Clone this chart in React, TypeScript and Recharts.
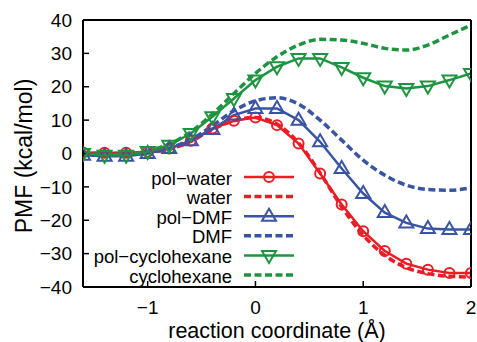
import { LineChart, Line, XAxis, YAxis, Legend, Label } from "recharts";

const RED = "#ec1c24";
const BLUE = "#3a54a4";
const GREEN = "#1f9440";
const FONT = "'Liberation Sans', Arial, Helvetica, sans-serif";

// reaction coordinate (Å), sampled every 0.2
const xs = [-1.6, -1.4, -1.2, -1.0, -0.8, -0.6, -0.4, -0.2, 0, 0.2, 0.4, 0.6, 0.8, 1.0, 1.2, 1.4, 1.6, 1.8, 2.0];

// PMF (kcal/mol)
const polWater = [0.3, 0.2, 0.2, 0.5, 1.5, 3.8, 7.5, 9.8, 10.8, 8.5, 3, -6, -15.3, -23.3, -29.2, -33, -34.8, -35.8, -35.8];
const water = [0, 0, 0, 0.3, 1.3, 3.6, 7.2, 9.8, 10.8, 8.8, 3.2, -5.8, -16, -24.5, -30.5, -34.2, -36, -36.8, -37];
const polDmf = [-0.5, -0.8, -0.8, 0, 1.5, 3.8, 7.2, 11.5, 13.5, 13.5, 10, 3.5, -4.5, -12, -17.7, -20.8, -22.5, -22.8, -22.8];
const dmf = [0, -0.3, -0.3, 0.3, 1.6, 4.2, 8.3, 12.8, 15.8, 16.7, 14.8, 10, 4, -2, -6.5, -9.5, -10.8, -11, -10.3];
const polCyclo = [0, -0.5, -0.5, 0.6, 2.5, 6, 11, 16.5, 22, 26, 28.5, 28.5, 25.8, 22.7, 20.2, 19.5, 20.2, 22, 24];
const cyclo = [0, -0.3, -0.3, 0.8, 2.8, 6.5, 11.8, 18, 24, 29, 32.5, 34.2, 34, 33, 31.5, 31, 32.5, 35.5, 38.5];

const xTicks = [-1, 0, 1, 2];
const yTicks = [-40, -30, -20, -10, 0, 10, 20, 30, 40];

// legend order, as in the plot command
const seriesOrder = ["polWater", "water", "polDmf", "dmf", "polCyclo", "cyclo"];

const rows = xs.map((x, i) => ({
  x,
  polWater: polWater[i],
  water: water[i],
  polDmf: polDmf[i],
  dmf: dmf[i],
  polCyclo: polCyclo[i],
  cyclo: cyclo[i],
}));

const fmt = (v: number) => (v < 0 ? `\u2212${Math.abs(v)}` : String(v));

function circlePath(cx: number, cy: number, color: string, key?: string) {
  return <circle key={key} cx={cx} cy={cy} r={5} fill="none" stroke={color} strokeWidth={2} />;
}
function triUp(cx: number, cy: number, color: string, key?: string) {
  return (
    <path key={key} d={`M${cx},${cy - 7.5}L${cx + 7},${cy + 4.5}L${cx - 7},${cy + 4.5}Z`} fill="none" stroke={color} strokeWidth={2} />
  );
}
function triDown(cx: number, cy: number, color: string, key?: string) {
  return (
    <path key={key} d={`M${cx},${cy + 7.5}L${cx + 7},${cy - 4.5}L${cx - 7},${cy - 4.5}Z`} fill="none" stroke={color} strokeWidth={2} />
  );
}

const markerFor: Record<string, (cx: number, cy: number, c: string, k?: string) => JSX.Element> = {
  polWater: circlePath,
  polDmf: triUp,
  polCyclo: triDown,
};

function makeDot(kind: string, color: string) {
  return (props: any) => {
    const { cx, cy, index } = props;
    if (cx == null || cy == null) return <g key={`${kind}${index}`} />;
    return markerFor[kind](cx, cy, color, `${kind}${index}`);
  };
}

function LegendBox(props: any) {
  const payload = [...(props.payload || [])].sort(
    (a: any, b: any) => seriesOrder.indexOf(a.dataKey) - seriesOrder.indexOf(b.dataKey)
  );
  return (
    <svg width={300} height={125} style={{ display: "block", overflow: "visible" }}>
      {payload.map((entry: any, i: number) => {
        const y = 12 + i * 19.6;
        const key = entry.dataKey as string;
        const dashed = !!entry.payload?.strokeDasharray;
        return (
          <g key={key}>
            <text x={232} y={y + 1} textAnchor="end" dominantBaseline="central" fontSize={18.5} fontFamily={FONT} fill="#000">
              {entry.value}
            </text>
            <line
              x1={244}
              x2={294}
              y1={y}
              y2={y}
              stroke={entry.color}
              strokeWidth={dashed ? 3.5 : 2.5}
              strokeDasharray={dashed ? "7 3.5" : undefined}
            />
            {markerFor[key] ? markerFor[key](269, y, entry.color) : null}
          </g>
        );
      })}
    </svg>
  );
}

export default function App() {
  const tickStyle = { fill: "#000", fontSize: 19, fontFamily: FONT };
  const axisLine = { stroke: "#000", strokeWidth: 2 };
  const tickLine = { stroke: "#000", strokeWidth: 1.5 };
  return (
    <div style={{ position: "absolute", left: 0, top: 0, width: 477, height: 342, background: "#fff" }}>
      <LineChart
        width={477}
        height={342}
        data={rows}
        margin={{ top: 0, right: 0, bottom: 0, left: 0 }}
        style={{ fontFamily: FONT }}
      >
        <XAxis
          xAxisId="bottom"
          dataKey="x"
          type="number"
          domain={[-1.6, 2]}
          ticks={xTicks}
          allowDataOverflow
          height={55}
          tick={tickStyle}
          tickFormatter={fmt}
          tickSize={-6}
          tickMargin={20}
          axisLine={axisLine}
          tickLine={tickLine}
        >
          <Label
            content={() => (
              <text x={277} y={338} textAnchor="middle" fontSize={21.5} fontFamily={FONT} fill="#000">
                reaction coordinate (Å)
              </text>
            )}
          />
        </XAxis>
        <XAxis
          xAxisId="top"
          orientation="top"
          dataKey="x"
          type="number"
          domain={[-1.6, 2]}
          ticks={xTicks}
          allowDataOverflow
          height={20}
          tick={false}
          tickSize={-6}
          axisLine={axisLine}
          tickLine={tickLine}
        />
        <YAxis
          yAxisId="left"
          type="number"
          domain={[-40, 40]}
          ticks={yTicks}
          allowDataOverflow
          width={83}
          tick={tickStyle}
          tickFormatter={fmt}
          tickSize={-6}
          tickMargin={17}
          axisLine={axisLine}
          tickLine={tickLine}
        >
          <Label
            content={() => (
              <text
                x={24}
                y={156}
                transform="rotate(-90 24 156)"
                textAnchor="middle"
                dominantBaseline="central"
                fontSize={23}
                fontFamily={FONT}
                fill="#000"
              >
                PMF (kcal/mol)
              </text>
            )}
          />
        </YAxis>
        <YAxis
          yAxisId="right"
          orientation="right"
          type="number"
          domain={[-40, 40]}
          ticks={yTicks}
          allowDataOverflow
          width={6}
          tick={false}
          tickSize={-6}
          axisLine={axisLine}
          tickLine={tickLine}
        />
        <Legend
          layout="horizontal"
          verticalAlign="middle"
          align="center"
          itemSorter={null as any}
          wrapperStyle={{ left: 0, top: 165, width: 300, height: 125 }}
          content={LegendBox}
        />
        <Line
          xAxisId="bottom"
          yAxisId="left"
          dataKey="polWater"
          name="pol−water"
          type="linear"
          stroke={RED}
          strokeWidth={2.5}
          dot={makeDot("polWater", RED)}
          activeDot={false}
          isAnimationActive={false}
        />
        <Line
          xAxisId="bottom"
          yAxisId="left"
          dataKey="water"
          name="water"
          type="monotone"
          stroke={RED}
          strokeWidth={3.5}
          strokeDasharray="7 3.5"
          dot={false}
          activeDot={false}
          isAnimationActive={false}
        />
        <Line
          xAxisId="bottom"
          yAxisId="left"
          dataKey="polDmf"
          name="pol−DMF"
          type="linear"
          stroke={BLUE}
          strokeWidth={2.5}
          dot={makeDot("polDmf", BLUE)}
          activeDot={false}
          isAnimationActive={false}
        />
        <Line
          xAxisId="bottom"
          yAxisId="left"
          dataKey="dmf"
          name="DMF"
          type="monotone"
          stroke={BLUE}
          strokeWidth={3.5}
          strokeDasharray="7 3.5"
          dot={false}
          activeDot={false}
          isAnimationActive={false}
        />
        <Line
          xAxisId="bottom"
          yAxisId="left"
          dataKey="polCyclo"
          name="pol−cyclohexane"
          type="linear"
          stroke={GREEN}
          strokeWidth={2.5}
          dot={makeDot("polCyclo", GREEN)}
          activeDot={false}
          isAnimationActive={false}
        />
        <Line
          xAxisId="bottom"
          yAxisId="left"
          dataKey="cyclo"
          name="cyclohexane"
          type="monotone"
          stroke={GREEN}
          strokeWidth={3.5}
          strokeDasharray="7 3.5"
          dot={false}
          activeDot={false}
          isAnimationActive={false}
        />
      </LineChart>
    </div>
  );
}
